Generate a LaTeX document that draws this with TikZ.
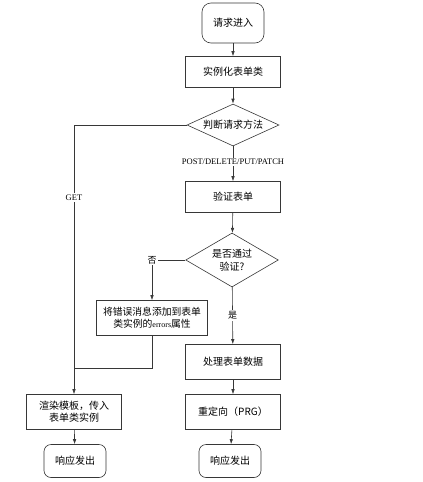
\documentclass[tikz,border=0pt]{standalone}
\usepackage{fontspec}
\setmainfont{Liberation Serif}
\newfontfamily\cjk{Noto Sans CJK SC}
\usetikzlibrary{shapes.geometric, arrows.meta}
\definecolor{lineclr}{RGB}{55, 55, 55}

\begin{document}
\begin{tikzpicture}[x=1pt, y=-1pt,
	box/.style={draw=lineclr, line width=0.6pt, minimum width=95pt, minimum height=31pt, align=center, font=\cjk\fontsize{10}{13}\selectfont},
	endbox/.style={draw=lineclr, line width=0.6pt, rounded corners=7pt, minimum width=62pt, minimum height=33pt, font=\cjk\fontsize{10}{13}\selectfont},
	choice/.style={draw=lineclr, line width=0.6pt, diamond, aspect=2.1, inner sep=1pt, align=center, font=\cjk\fontsize{10}{13}\selectfont},
	lbl/.style={fill=white, inner sep=1.5pt, font=\fontsize{8.5}{10}\selectfont},
	flow/.style={draw=lineclr, line width=0.6pt, -{Latex[length=5pt, width=3.5pt]}}]
	\useasboundingbox (0,0) rectangle (423,482);
	% main column
	\node[endbox, minimum height=40pt, rounded corners=9pt] (start) at (233,23) {请求进入};
	\node[box] (inst) at (233,72) {实例化表单类};
	\node[choice, minimum width=92pt, minimum height=42pt] (method) at (233,125) {判断请求方法};
	\node[box] (verify) at (233,197) {验证表单};
	\node[choice, minimum width=82pt, minimum height=54pt] (valid) at (232,260) {是否通过\\验证?};
	\node[box, minimum height=35pt] (handle) at (233,362) {处理表单数据};
	\node[box, minimum height=35pt] (redirect) at (233,412) {重定向（PRG）};
	\node[endbox] (endb) at (230,461) {响应发出};
	% left column
	\node[font=\cjk\fontsize{9}{10}\selectfont, inner sep=1pt] (no) at (152,260) {否};
	\node[box, minimum width=111pt, minimum height=35pt, font=\cjk\fontsize{9.8}{12}\selectfont] (error) at (152,318) {将错误消息添加到表单\\类实例的{\rmfamily\fontsize{8}{10}\selectfont errors}属性};
	\node[box, minimum height=35pt, font=\cjk\fontsize{10}{12}\selectfont] (render) at (74,412) {渲染模板，传入\\表单类实例};
	\node[endbox] (enda) at (75,461) {响应发出};
	\coordinate (join) at (74,368);

	\draw[flow] (start) -- (inst);
	\draw[flow] (inst) -- (method);
	\draw[flow] (method) -- node[lbl, pos=0.45] {POST/DELETE/PUT/PATCH} (verify);
	\draw[flow] (verify) -- (valid);
	\draw[flow] (valid) -- node[lbl, font=\cjk\fontsize{9}{10}\selectfont] {是} (handle);
	\draw[flow] (handle) -- (redirect);
	\draw[flow] (redirect) -- (endb);
	\draw[lineclr, line width=0.6pt] (valid.west) -- (no);
	\draw[flow] (no) -- (error);
	\draw[flow] (method.west) -| node[lbl, pos=0.635] {GET} (render);
	\draw[lineclr, line width=0.6pt] (error.south) |- (join);
	\draw[flow] (render) -- (enda);
\end{tikzpicture}
\end{document}
